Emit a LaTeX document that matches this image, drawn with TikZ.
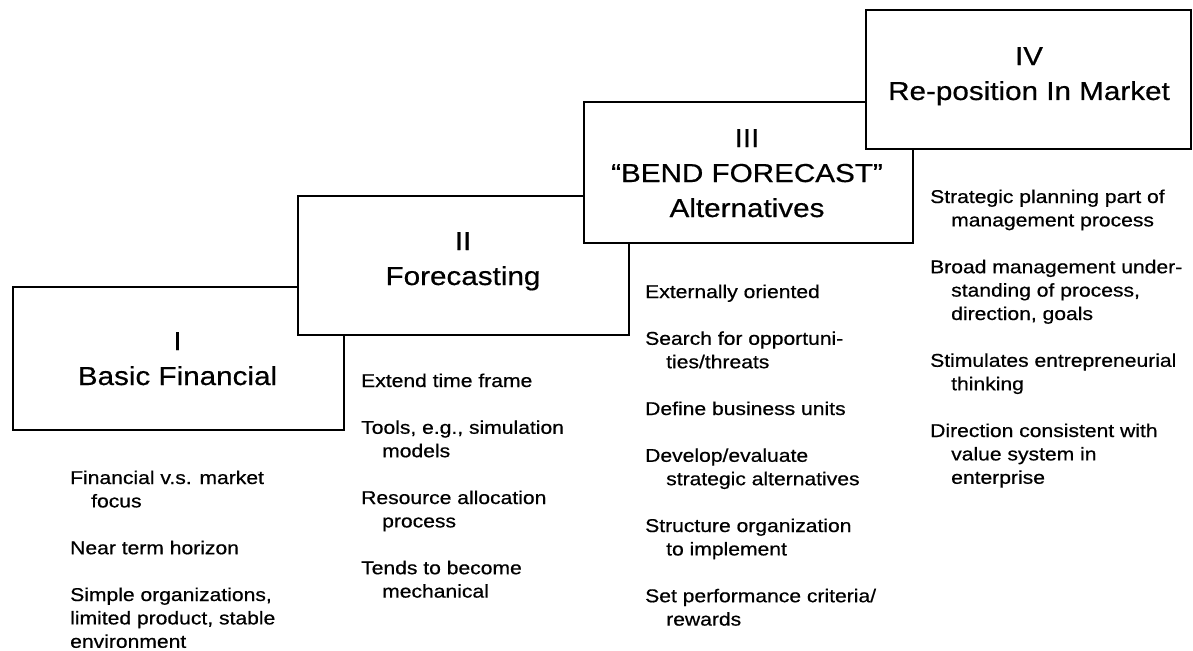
\documentclass[tikz,border=0pt]{standalone}
\usepackage{fontspec}
\setmainfont{Liberation Sans}[FakeStretch=1.14,FakeBold=0.6]
\begin{document}
\begin{tikzpicture}[x=1pt,y=-1pt,
  stage/.style={draw=black, fill=white, line width=2pt, rectangle, inner sep=0pt, anchor=north west},
  ttl/.style={anchor=base, align=center, inner sep=0pt, font=\fontsize{26}{35}\selectfont},
  body/.style={anchor=base west, align=left, inner sep=0pt, font=\fontsize{18.5}{23.4}\selectfont}]
\useasboundingbox (0,0) rectangle (1193,650);
\newcommand{\ind}{\hspace*{21pt}}
% boxes, back to front
\node[stage, minimum width=331pt, minimum height=143pt] (b1) at (12,286) {};
\node[stage, minimum width=331pt, minimum height=139pt] (b2) at (297,195) {};
\node[stage, minimum width=329pt, minimum height=141pt] (b3) at (583,101) {};
\node[stage, minimum width=325pt, minimum height=139pt] (b4) at (865,9) {};
% titles (anchored at the baseline of the last line)
\node[ttl] (t1) at (177.5,385) {I\\Basic Financial};
\node[ttl] (t2) at (463,285) {II\\Forecasting};
\node[ttl] (t3) at (747,217) {III\\“BEND FORECAST”\\Alternatives};
\node[ttl] (t4) at (1029,100) {IV\\Re-position In Market};
% columns (anchored at the baseline of the last line)
\node[body] (c1) at (70,647.8) {Financial v.s. market\\\ind focus\\[23.4pt]
Near term horizon\\[23.4pt]
Simple organizations,\\limited product, stable\\environment};
\node[body] (c2) at (361,597.6) {Extend time frame\\[23.4pt]
Tools, e.g., simulation\\\ind models\\[23.4pt]
Resource allocation\\\ind process\\[23.4pt]
Tends to become\\\ind mechanical};
\node[body] (c3) at (645,625.6) {Externally oriented\\[23.4pt]
Search for opportuni-\\\ind ties/threats\\[23.4pt]
Define business units\\[23.4pt]
Develop/evaluate\\\ind strategic alternatives\\[23.4pt]
Structure organization\\\ind to implement\\[23.4pt]
Set performance criteria/\\\ind rewards};
\node[body] (c4) at (930,483.8) {Strategic planning part of\\\ind management process\\[23.4pt]
Broad management under-\\\ind standing of process,\\\ind direction, goals\\[23.4pt]
Stimulates entrepreneurial\\\ind thinking\\[23.4pt]
Direction consistent with\\\ind value system in\\\ind enterprise};
\end{tikzpicture}
\end{document}
